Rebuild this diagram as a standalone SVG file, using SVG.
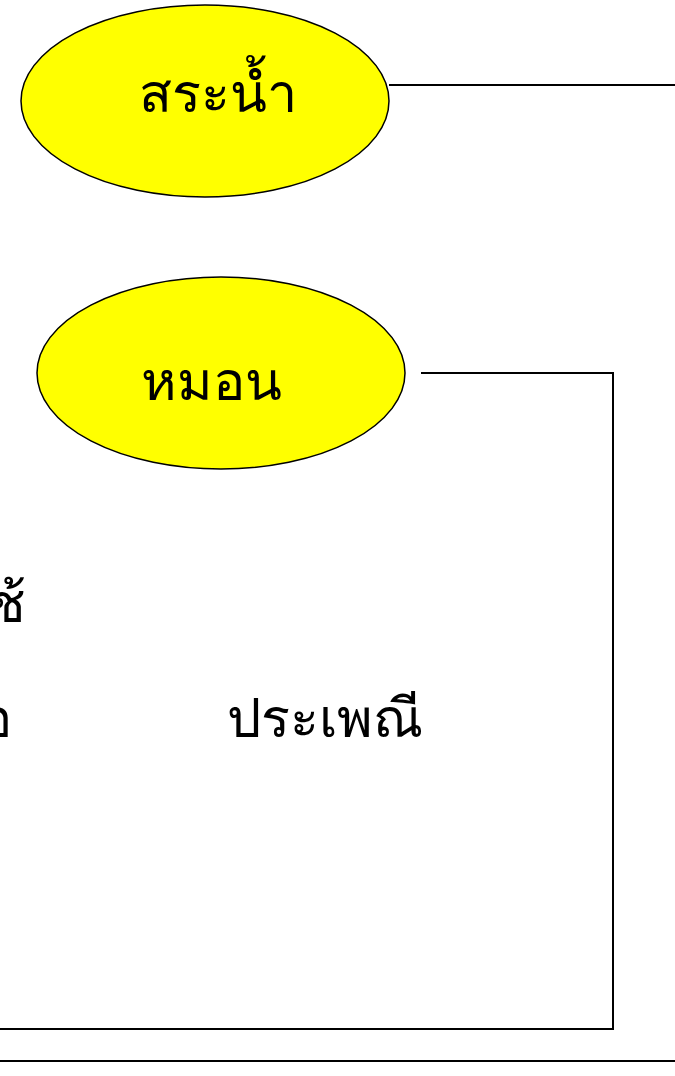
<svg xmlns="http://www.w3.org/2000/svg" width="675" height="1076" viewBox="0 0 675 1076">
<style>
.node{fill:#ffff00;stroke:#000;stroke-width:1.5}
.conn{fill:none;stroke:#000;stroke-width:2}
.t{font-family:"Norasi","Kinnari","Liberation Serif","Noto Sans","DejaVu Sans",serif;font-size:54px;font-weight:normal;fill:#000}
</style>
<rect width="675" height="1076" fill="#fff"/>
<g id="connectors">
<path class="conn" d="M389,85 H675"/>
<path class="conn" d="M421,373 H613 V1029 H0"/>
<path class="conn" d="M0,1061 H675"/>
</g>
<g id="node-sranam">
<ellipse class="node" cx="205" cy="101" rx="184" ry="96"/>
<text class="t" x="218" y="112" text-anchor="middle">สระน้ำ</text>
</g>
<g id="node-mon">
<ellipse class="node" cx="221" cy="373" rx="184" ry="96"/>
<text class="t" x="211" y="400" text-anchor="middle">หมอน</text>
</g>
<g id="labels">
<text class="t" x="26" y="622" text-anchor="end">ช้</text>
<text class="t" x="12" y="737" text-anchor="end">อ</text>
<text class="t" x="325" y="737" text-anchor="middle">ประเพณี</text>
</g>
</svg>
